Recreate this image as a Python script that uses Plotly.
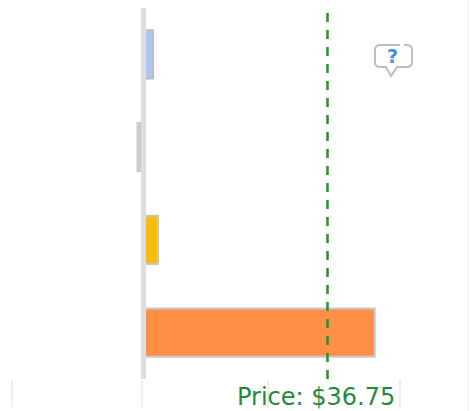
import plotly.graph_objects as go

categories = ["Item 1", "Item 2", "Item 3", "Item 4"]
values = [1.9, -1.2, 2.9, 46.2]
colors = ["#aec6f0", "#cccccc", "#f8bb10", "#ff8f45"]
border_colors = ["#bdbdbd", "#cccccc", "#c8c8b8", "#c8c8c8"]
price = 36.75
tick_values = [-26.3, -0.3, 24.9, 51.2]
tick_labels = ["", "", "", ""]

W, H = 471, 411

fig = go.Figure(
    go.Bar(
        y=categories,
        x=values,
        orientation="h",
        width=0.52,
        marker=dict(color=colors, line=dict(color=border_colors, width=2)),
        hoverinfo="skip",
    )
)

# zero baseline over the bar bases
fig.add_shape(type="line", xref="x", yref="paper", x0=0, x1=0, y0=0, y1=1,
              line=dict(color="#dedede", width=5), layer="above")
# price marker
fig.add_shape(type="line", xref="x", yref="paper", x0=price, x1=price, y0=0, y1=1,
              line=dict(color="#2e8b2e", width=2.5, dash="9px,8px"), layer="above")
# right-hand hairline
fig.add_shape(type="line", xref="paper", yref="paper", x0=0.9936, x1=0.9936, y0=-0.09, y1=1.02,
              line=dict(color="#eeeeee", width=1), layer="below")

# help bubble icon
def px(x): return x / W
def py(y): return 1 - (y - 8) / 371
bubble = (
    f"M {px(400)} {py(45)} L {px(380)} {py(45)} Q {px(375)} {py(45)} {px(375)} {py(50)} "
    f"L {px(375)} {py(62)} Q {px(375)} {py(67)} {px(380)} {py(67)} L {px(386)} {py(67)} "
    f"L {px(391)} {py(76)} L {px(397)} {py(67)} L {px(407)} {py(67)} "
    f"Q {px(412)} {py(67)} {px(412)} {py(62)} L {px(412)} {py(50)} "
    f"Q {px(412)} {py(45)} {px(407)} {py(45)} L {px(404)} {py(45)}"
)
fig.add_shape(type="path", xref="paper", yref="paper", path=bubble,
              line=dict(color="#bdbdbd", width=2), layer="above")

fig.add_annotation(xref="paper", yref="paper", x=px(392.5), y=py(56), text="<b>?</b>",
                   xanchor="center", yanchor="middle",
                   showarrow=False, font=dict(family="DejaVu Sans", size=19, color="#3d8fe0"))
fig.add_annotation(xref="paper", yref="paper", x=px(315.5), y=py(397),
                   xanchor="center", yanchor="middle",
                   text=f"Price: ${price}", showarrow=False,
                   font=dict(family="DejaVu Sans", size=24, color="#1f8a3c"))

fig.update_layout(
    width=W,
    height=H,
    margin=dict(l=0, r=0, t=8, b=32),
    paper_bgcolor="white",
    plot_bgcolor="white",
    showlegend=False,
    xaxis=dict(
        range=[-28.66, 65.41],
        tickmode="array",
        tickvals=tick_values,
        ticktext=tick_labels,
        ticks="outside",
        ticklen=27,
        tickwidth=1.5,
        tickcolor="#eeeeee",
        showgrid=False,
        zeroline=False,
        showline=False,
    ),
    yaxis=dict(
        autorange="reversed",
        showticklabels=False,
        ticks="",
        showgrid=False,
        zeroline=False,
        showline=False,
    ),
)

fig.write_html("out.html", config={"displayModeBar": False},
               post_script="document.body.style.margin='0';document.documentElement.style.overflow='hidden';")
